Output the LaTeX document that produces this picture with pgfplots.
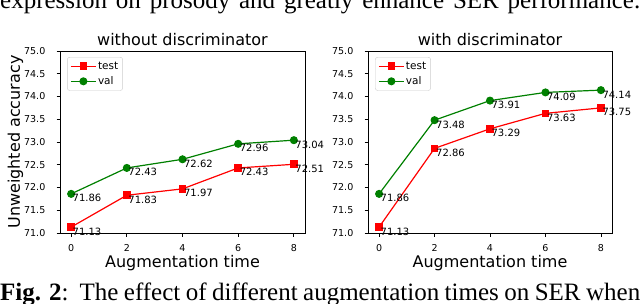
\documentclass[border=0pt]{standalone}
\usepackage{pgfplots}
\pgfplotsset{compat=1.18}
\usepackage{fontspec}
\setmainfont{DejaVu Sans}
\newfontfamily\timesfont{Liberation Serif}
\definecolor{mplred}{RGB}{255,0,0}
\definecolor{mplgreen}{RGB}{0,128,0}
\pgfplotsset{
 myaxis/.style={
  scale only axis, width=245bp, height=182bp, anchor=south west,
  xmin=-0.4, xmax=8.4, ymin=71, ymax=75,
  xtick={0,2,4,6,8}, ytick={71,71.5,72,72.5,73,73.5,74,74.5,75},
  /pgf/number format/assume math mode=true,
  yticklabel style={/pgf/number format/fixed, /pgf/number format/fixed zerofill, /pgf/number format/precision=1},
  tick label style={font=\fontsize{9.5bp}{10bp}\selectfont, inner sep=0pt},
  xticklabel style={anchor=north, yshift=-8bp},
  yticklabel style={anchor=east, xshift=-11bp},
  tick align=outside, major tick length=3.5bp,
  xtick pos=bottom, ytick pos=left,
  axis line style={line width=0.8bp},
  tick style={line width=0.8bp, black},
  title style={at={(axis description cs:0.5,1)}, anchor=base, font=\fontsize{16bp}{18bp}\selectfont},
  xlabel style={at={(axis description cs:0.5,0)}, anchor=base, yshift=-34bp, font=\fontsize{16bp}{18bp}\selectfont},
  ylabel style={at={(axis description cs:0,0.5)}, anchor=base, yshift=40bp, font=\fontsize{16bp}{18bp}\selectfont},
  xlabel={Augmentation time},
  clip=false,
  legend style={at={(0.029,0.967)}, anchor=north west, draw=black!20, rounded corners=2.5bp, fill=white,
     font=\fontsize{10.5bp}{12bp}\selectfont, inner xsep=3bp, inner ysep=3bp, row sep=3bp,
     nodes={inner sep=1.5bp}},
  legend cell align=left,
  legend image code/.code={\draw[mark repeat=2,mark phase=2,##1] plot coordinates {(0bp,0bp)(12.5bp,0bp)(25bp,0bp)};},
  point meta=explicit symbolic,
  nodes near coords,
  nodes near coords style={anchor=north west, inner sep=0pt, xshift=1bp, font=\fontsize{10bp}{11bp}\selectfont, text=black},
 },
 testplot/.style={color=mplred, line width=1.2bp, mark=square*, mark size=3.2bp, mark options={solid}},
 valplot/.style={color=mplgreen, line width=1.2bp, mark=*, mark size=3.4bp, mark options={solid}},
}
\begin{document}
\begin{tikzpicture}[x=1bp,y=1bp]
\useasboundingbox (0,0) rectangle (640,303);
\node[anchor=base west, inner sep=0pt] at (0,294) {\timesfont\fontsize{25bp}{30bp}\selectfont\makebox[640bp][s]{expression on prosody and greatly enhance SER performance.}};
\node[anchor=base west, inner sep=0pt] at (0,2.5) {\timesfont\fontsize{25bp}{30bp}\selectfont\makebox[640bp][s]{\textbf{Fig. 2}:\ \ The effect of different augmentation times on SER when}};
\begin{axis}[myaxis, at={(60bp,70bp)}, title={without discriminator}, ylabel={Unweighted accuracy}]
\addplot[testplot] coordinates {(0,71.13)[71.13] (2,71.83)[71.83] (4,71.97)[71.97] (6,72.43)[72.43] (8,72.51)[72.51]};
\addlegendentry{test}
\addplot[valplot] coordinates {(0,71.86)[71.86] (2,72.43)[72.43] (4,72.62)[72.62] (6,72.96)[72.96] (8,73.04)[73.04]};
\addlegendentry{val}
\end{axis}
\begin{axis}[myaxis, at={(368bp,70bp)}, width=244bp, title={with discriminator}]
\addplot[testplot] coordinates {(0,71.13)[71.13] (2,72.86)[72.86] (4,73.29)[73.29] (6,73.63)[73.63] (8,73.75)[73.75]};
\addlegendentry{test}
\addplot[valplot] coordinates {(0,71.86)[71.86] (2,73.48)[73.48] (4,73.91)[73.91] (6,74.09)[74.09] (8,74.14)[74.14]};
\addlegendentry{val}
\end{axis}
\end{tikzpicture}
\end{document}
